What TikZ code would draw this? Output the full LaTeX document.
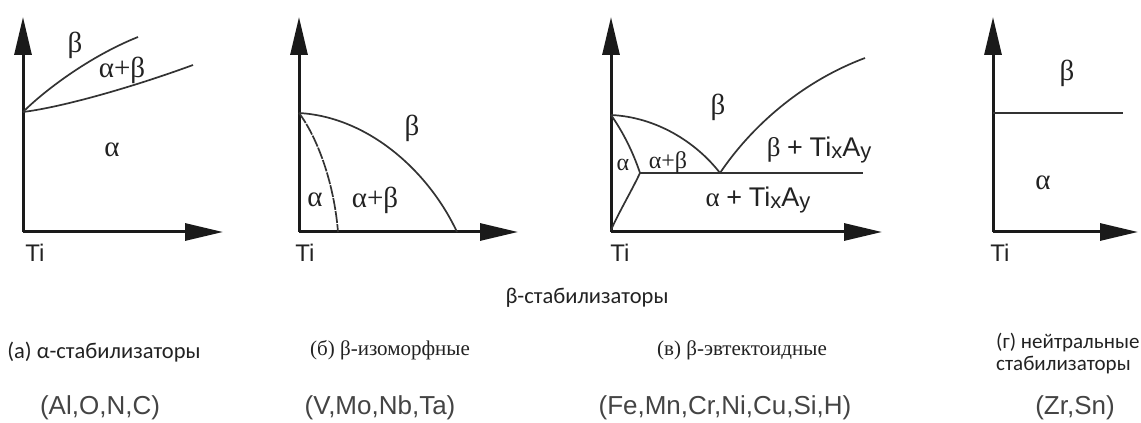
\documentclass[tikz,border=0pt]{standalone}
\usepackage{fontspec}
\setmainfont{Liberation Serif}
\newfontfamily\grfont{Liberation Serif}
\newfontfamily\lblfont{Carlito}
\newfontfamily\elfont{Liberation Sans}
\usetikzlibrary{arrows.meta}
\definecolor{axisC}{HTML}{1A1A1A}
\definecolor{lineC}{HTML}{333333}
\definecolor{txtC}{HTML}{222222}
\definecolor{elC}{HTML}{444444}
\newcommand{\tixay}{{\elfont Ti\raisebox{-2pt}{\fontsize{22}{22}\selectfont x}A\raisebox{-2pt}{\fontsize{22}{22}\selectfont y}}}
\tikzset{
  axis/.style={line width=3pt,axisC,-{Triangle[length=38pt,width=17pt]}},
  phase/.style={line width=1.7pt,lineC},
  greek/.style={font=\grfont\fontsize{29}{29}\selectfont,txtC,inner sep=0pt},
  smallgreek/.style={font=\grfont\fontsize{24}{24}\selectfont,txtC,inner sep=0pt},
  mixlbl/.style={font=\grfont\fontsize{27}{27}\selectfont,txtC,inner sep=0pt},
  tilbl/.style={font=\elfont\fontsize{24}{24}\selectfont,txtC,inner sep=0pt},
  sanscap/.style={font=\lblfont\fontsize{22.5}{22}\selectfont,txtC,inner sep=0pt},
  sidecap/.style={font=\lblfont\fontsize{21}{22}\selectfont,txtC,inner sep=0pt},
  serifcap/.style={font=\fontsize{21}{24}\selectfont,txtC,inner sep=0pt},
  elems/.style={font=\elfont\fontsize{26}{26}\selectfont,elC,inner sep=0pt}
}

\begin{document}
\begin{tikzpicture}[x=1pt,y=1pt]
\useasboundingbox (0,-191) rectangle (1141,232);
\begin{scope}[xshift=23pt]
\coordinate (a-o) at (0,0);
\coordinate (a-y) at (0,215);
\coordinate (a-x) at (200,0);
\coordinate (a-t) at (0,120);
\draw[axis] (a-o) -- (a-y);
\draw[axis] (a-o) -- (a-x);
\draw[phase] (a-t) .. controls (20,140) and (65,175) .. (115,195);
\draw[phase] (a-t) .. controls (40,125) and (110,145) .. (170,167);
\node[greek] (a-beta) at (52,187) {β};
\node[greek] (a-ab) at (99,162) {α+β};
\node[greek] (a-alpha) at (89,82) {α};
\node[tilbl] (a-ti) at (12,-21) {Ti};
\end{scope}
\begin{scope}[xshift=299pt]
\coordinate (b-o) at (0,0);
\coordinate (b-y) at (0,215);
\coordinate (b-x) at (219,0);
\coordinate (b-t) at (0,119);
\draw[axis] (b-o) -- (b-y);
\draw[axis] (b-o) -- (b-x);
\draw[phase] (b-t) .. controls (70,115) and (130,60) .. (158,0);
\draw[phase,dash pattern=on 12pt off 1.2pt] (b-t) .. controls (18,95) and (35,50) .. (39,0);
\node[greek] (b-beta) at (113,104) {β};
\node[greek] (b-alpha) at (16,32) {α};
\node[greek] (b-ab) at (76,32) {α+β};
\node[tilbl] (b-ti) at (6,-21) {Ti};
\end{scope}
\begin{scope}[xshift=611pt]
\coordinate (c-o) at (0,0);
\coordinate (c-y) at (0,215);
\coordinate (c-x) at (271,0);
\coordinate (c-t) at (0,117);
\coordinate (c-l) at (29,59);
\coordinate (c-e) at (109,59);
\coordinate (c-r) at (252,59);
\draw[axis] (c-o) -- (c-y);
\draw[axis] (c-o) -- (c-x);
\draw[phase] (c-t) .. controls (12,100) and (22,80) .. (c-l);
\draw[phase] (c-l) .. controls (20,40) and (8,20) .. (0,2);
\draw[phase] (c-l) -- (c-r);
\draw[phase] (c-t) .. controls (45,115) and (85,90) .. (c-e);
\draw[phase] (c-e) .. controls (140,105) and (190,150) .. (254,174);
\node[greek] (c-beta) at (107,125) {β};
\node[mixlbl] (c-bt) at (208,82) {β {\elfont+} \tixay};
\node[smallgreek] (c-ab) at (57,69) {α+β};
\node[smallgreek] (c-alpha) at (12,67) {α};
\node[mixlbl] (c-at) at (147,32) {α {\elfont+} \tixay};
\node[tilbl] (c-ti) at (9,-21) {Ti};
\end{scope}
\begin{scope}[xshift=993pt]
\coordinate (d-o) at (0,0);
\coordinate (d-y) at (0,215);
\coordinate (d-x) at (145,0);
\coordinate (d-t) at (0,119);
\coordinate (d-r) at (130,119);
\draw[axis] (d-o) -- (d-y);
\draw[axis] (d-o) -- (d-x);
\draw[phase] (d-t) -- (d-r);
\node[greek] (d-beta) at (74,159) {β};
\node[greek] (d-alpha) at (50,49) {α};
\node[tilbl] (d-ti) at (7,-21) {Ti};
\end{scope}
\node[sanscap] (bstab) at (587,-66) {β-стабилизаторы};
\node[sanscap] (capa) at (104,-120) {(а) α-стабилизаторы};
\node[serifcap] (capb) at (390,-118) {(б) β-изоморфные};
\node[serifcap] (capc) at (742,-118) {(в) β-эвтектоидные};
\node[sidecap,anchor=west,align=left] (capd) at (996,-122) {(г) нейтральные\\стабилизаторы};
\node[elems] (ela) at (100,-176) {(Al,O,N,C)};
\node[elems] (elb) at (380,-176) {(V,Mo,Nb,Ta)};
\node[elems] (elc) at (725,-176) {(Fe,Mn,Cr,Ni,Cu,Si,H)};
\node[elems] (eld) at (1075,-176) {(Zr,Sn)};
\end{tikzpicture}
\end{document}
